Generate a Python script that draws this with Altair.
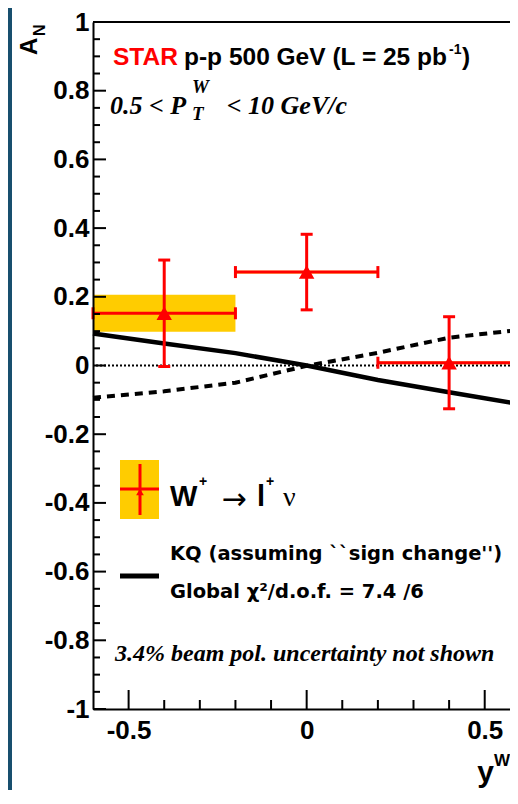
import altair as alt
import pandas as pd

# ---------------- data ----------------
bin_center = [-0.4, 0.0, 0.4]
bin_lo = [-0.6, -0.2, 0.2]
bin_hi = [-0.2, 0.2, 0.6]
an_value = [0.152, 0.272, 0.008]
an_stat = [0.155, 0.110, 0.134]
an_sys = [0.054, 0.004, 0.004]

curve_yw = [-0.6, -0.4, -0.2, 0.0, 0.2, 0.4, 0.6]
kq_sign_change = [0.093, 0.064, 0.036, 0.0, -0.042, -0.078, -0.113]
kq_mirror = [-0.094, -0.075, -0.050, -0.001, 0.037, 0.081, 0.104]

y_major = [-1, -0.8, -0.6, -0.4, -0.2, 0, 0.2, 0.4, 0.6, 0.8, 1]
y_minor = [-0.95, -0.9, -0.85, -0.75, -0.7, -0.65, -0.55, -0.5, -0.45,
           -0.35, -0.3, -0.25, -0.15, -0.1, -0.05, 0.05, 0.1, 0.15,
           0.25, 0.3, 0.35, 0.45, 0.5, 0.55, 0.65, 0.7, 0.75, 0.85, 0.9, 0.95]
x_major = [-0.5, 0, 0.5]
x_minor = [-0.4, -0.3, -0.2, -0.1, 0.1, 0.2, 0.3, 0.4]

# ---------------- tables ----------------
pts = pd.DataFrame({
    "yw": bin_center, "lo": bin_lo, "hi": bin_hi, "an": an_value,
    "stat_lo": [a - e for a, e in zip(an_value, an_stat)],
    "stat_hi": [a + e for a, e in zip(an_value, an_stat)],
    "sys_lo": [a - e for a, e in zip(an_value, an_sys)],
    "sys_hi": [a + e for a, e in zip(an_value, an_sys)],
})
vcaps = pd.concat([
    pd.DataFrame({"x": pts["yw"], "y": pts["stat_lo"]}),
    pd.DataFrame({"x": pts["yw"], "y": pts["stat_hi"]}),
])
hcaps = pd.concat([
    pd.DataFrame({"x": pts["lo"], "y": pts["an"]}),
    pd.DataFrame({"x": pts["hi"], "y": pts["an"]}),
])
solid = pd.DataFrame({"yw": curve_yw, "an": kq_sign_change})
dashed = pd.DataFrame({"yw": curve_yw, "an": kq_mirror})
one = pd.DataFrame({"a": [0]})

W, H = 417, 687
PB = 81  # bottom padding
RED = "#ff0000"
GOLD = "#ffcc00"
BLUE = "#184f6e"
SANS = "Liberation Sans"
SERIF = "Liberation Serif"
DJ = "DejaVu Sans"

xs = alt.Scale(domain=[-0.6, 0.571], nice=False, zero=False)
ys = alt.Scale(domain=[-1, 1], nice=False, zero=False)

minus_fix = "replace(datum.label, '\u2212', '-')"
yaxis = alt.Axis(values=y_major, format="~g", labelExpr=minus_fix, labelFont=SANS,
                 labelFontWeight="bold", labelFontSize=26, labelColor="black",
                 ticks=False, tickSize=0, domainColor="black", domainWidth=2,
                 grid=False, title=None, labelPadding=4, labelFlush=False,
                 labelOverlap=False, zindex=2)
xaxis = alt.Axis(values=x_major, format="~g", labelExpr=minus_fix, labelFont=SANS,
                 labelFontWeight="bold", labelFontSize=26, labelColor="black",
                 ticks=False, tickSize=0, domainColor="black", domainWidth=2,
                 grid=False, title=None, labelPadding=8, labelFlush=False,
                 labelOverlap=False, zindex=2)


def X(f):
    return alt.X(f, scale=xs, axis=xaxis)


def Y(f):
    return alt.Y(f, scale=ys, axis=yaxis)


def txt(s, px, py, size, font, weight="normal", style="normal", color="black",
        align="left", baseline="alphabetic", angle=0):
    return alt.Chart(pd.DataFrame({"t": [s]})).mark_text(
        align=align, baseline=baseline, font=font, fontSize=size,
        fontWeight=weight, fontStyle=style, color=color, angle=angle
    ).encode(x=alt.value(px), y=alt.value(py), text="t:N")


edge = alt.Chart(one).mark_rect(color=BLUE).encode(
    x=alt.value(-85), x2=alt.value(-81), y=alt.value(-14), y2=alt.value(H + PB))

sysbox = alt.Chart(pts).mark_rect(color=GOLD).encode(
    x=X("lo:Q"), x2="hi:Q", y=Y("sys_lo:Q"), y2="sys_hi:Q")

zero = alt.Chart(pd.DataFrame({"v": [0]})).mark_rule(
    color="black", strokeDash=[2, 2], strokeWidth=2).encode(y=Y("v:Q"))

line_solid = alt.Chart(solid).mark_line(color="black", strokeWidth=4.5).encode(
    x=X("yw:Q"), y=Y("an:Q"))
line_dash = alt.Chart(dashed).mark_line(color="black", strokeWidth=4,
                                        strokeDash=[8, 6]).encode(
    x=X("yw:Q"), y=Y("an:Q"))

hbar = alt.Chart(pts).mark_rule(color=RED, strokeWidth=3).encode(
    x=X("lo:Q"), x2="hi:Q", y=Y("an:Q"))
vbar = alt.Chart(pts).mark_rule(color=RED, strokeWidth=3).encode(
    x=X("yw:Q"), y=Y("stat_lo:Q"), y2="stat_hi:Q")
vcap = alt.Chart(vcaps).mark_tick(color=RED, orient="horizontal", size=12,
                                  thickness=3, opacity=1).encode(
    x=X("x:Q"), y=Y("y:Q"))
hcap = alt.Chart(hcaps).mark_tick(color=RED, orient="vertical", size=12,
                                  thickness=3, opacity=1).encode(
    x=X("x:Q"), y=Y("y:Q"))
tri = alt.Chart(pts).mark_point(shape="triangle-up", filled=True, size=240,
                                color=RED, opacity=1).encode(
    x=X("yw:Q"), y=Y("an:Q"))

ytm = alt.Chart(pd.DataFrame({"v": y_major})).mark_rule(color="black", strokeWidth=2).encode(
    y=Y("v:Q"), x=alt.value(0), x2=alt.value(13))
ytn = alt.Chart(pd.DataFrame({"v": y_minor})).mark_rule(color="black", strokeWidth=2).encode(
    y=Y("v:Q"), x=alt.value(0), x2=alt.value(7))
xtm = alt.Chart(pd.DataFrame({"v": x_major})).mark_rule(color="black", strokeWidth=2).encode(
    x=X("v:Q"), y=alt.value(H), y2=alt.value(H - 19))
xtn = alt.Chart(pd.DataFrame({"v": x_minor})).mark_rule(color="black", strokeWidth=2).encode(
    x=X("v:Q"), y=alt.value(H), y2=alt.value(H - 9))
topline = alt.Chart(one).mark_rule(color="black", strokeWidth=2).encode(
    x=alt.value(0), x2=alt.value(W), y=alt.value(0))

# legend
leg_box = alt.Chart(one).mark_rect(color=GOLD).encode(
    x=alt.value(27), x2=alt.value(66), y=alt.value(438), y2=alt.value(497))
leg_v = alt.Chart(one).mark_rule(color=RED, strokeWidth=3).encode(
    x=alt.value(47), y=alt.value(442), y2=alt.value(493))
leg_h = alt.Chart(one).mark_rule(color=RED, strokeWidth=3).encode(
    x=alt.value(27), x2=alt.value(66), y=alt.value(467))
leg_tri = alt.Chart(one).mark_point(shape="triangle-up", filled=True, size=60,
                                    color=RED, opacity=1).encode(
    x=alt.value(47), y=alt.value(470))
leg_line = alt.Chart(one).mark_rule(color="black", strokeWidth=5).encode(
    x=alt.value(27), x2=alt.value(66), y=alt.value(554))

texts = [
    txt("STAR", 20, 43, 24.5, SANS, weight="bold", color=RED),
    txt("p-p 500 GeV (L = 25 pb", 354, 43, 24.5, SANS, weight="bold", align="right"),
    txt("-1", 356, 32, 14, SANS, weight="bold"),
    txt(")", 369, 43, 24.5, SANS, weight="bold"),
    txt("0.5 < P", 17, 92, 26, SERIF, weight="bold", style="italic"),
    txt("W", 99, 71, 19, SERIF, weight="bold", style="italic"),
    txt("T", 99, 98, 19, SERIF, weight="bold", style="italic"),
    txt("< 10 GeV/c", 254, 92, 26, SERIF, weight="bold", style="italic", align="right"),
    txt("3.4% beam pol. uncertainty not shown", 22, 639, 24, SERIF,
        weight="bold", style="italic"),
    txt("W", 77, 484, 29, SANS, weight="bold"),
    txt("+", 106, 464, 14, SANS, weight="bold"),
    txt("\u2192", 141, 478, 30, DJ, align="center", baseline="middle"),
    txt("l", 164, 484, 29, SANS, weight="bold"),
    txt("+", 173, 464, 14, SANS, weight="bold"),
    txt("\u03bd", 190, 484, 28, SERIF),
    txt("KQ (assuming ``sign change'')", 77, 538, 19.5, DJ, weight="bold"),
    txt("Global \u03c7\u00b2/d.o.f. = 7.4  /6", 77, 576, 19.5, DJ, weight="bold"),
    txt("A", -56, 33, 24, SANS, weight="bold", angle=270),
    txt("N", -48, 14, 16, SANS, weight="bold", angle=270),
    txt("y", 401, 760, 30, SANS, weight="bold", align="right"),
    txt("W", 401, 744, 17, SANS, weight="bold"),
]

chart = alt.layer(
    edge, sysbox, zero, line_solid, line_dash, hbar, vbar, vcap, hcap, tri,
    ytm, ytn, xtm, xtn, topline,
    leg_box, leg_v, leg_h, leg_tri, leg_line, *texts
).properties(
    width=W, height=H, autosize="none",
    padding={"left": 85, "top": 14, "right": 0, "bottom": PB},
    background="white",
).configure_view(strokeWidth=0)

chart.save("out.html", embed_options={"renderer": "svg", "actions": False})
